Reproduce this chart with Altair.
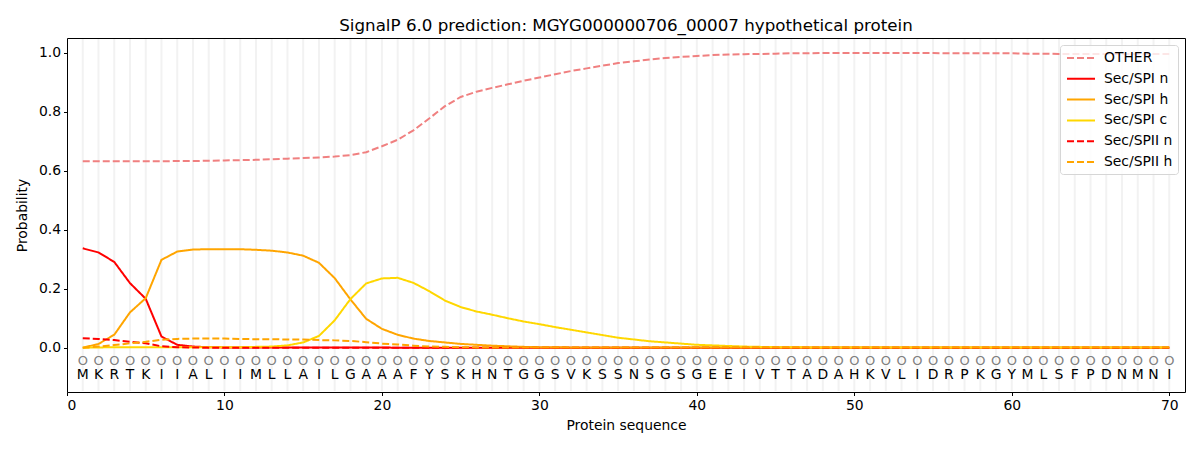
import altair as alt
import pandas as pd

title_text = "SignalP 6.0 prediction: MGYG000000706_00007 hypothetical protein"

sequence = list("MKRTKIIALIIMLLAILGAAAFYSKHNTGGSVKSSNSGSGEEIVTTADAHKVLIDRPKGYMLSFPDNMNI")
positions = list(range(1, len(sequence) + 1))

other = [0.632, 0.632, 0.632, 0.632, 0.632, 0.632, 0.633, 0.633, 0.634, 0.635,
         0.636, 0.637, 0.639, 0.641, 0.643, 0.645, 0.648, 0.653, 0.663, 0.683,
         0.705, 0.737, 0.777, 0.819, 0.850, 0.868, 0.881, 0.893, 0.905, 0.916,
         0.927, 0.938, 0.947, 0.956, 0.965, 0.971, 0.977, 0.982, 0.986, 0.989,
         0.992, 0.994, 0.995, 0.996, 0.997, 0.998, 0.998, 0.999, 0.999, 0.999,
         0.999, 0.999, 0.999, 0.999, 0.999, 0.998, 0.998, 0.998, 0.998, 0.998,
         0.997, 0.997, 0.996, 0.996, 0.996, 0.996, 0.996, 0.996, 0.996, 0.996]

spi_n = [0.337, 0.323, 0.291, 0.219, 0.166, 0.038, 0.010, 0.004, 0.002, 0.001,
         0.001, 0.001, 0.001, 0.001, 0.001, 0.001, 0.001, 0.001, 0.001, 0.001,
         0.000, 0.000, 0.000, 0.000, 0.000, 0.000, 0.000, 0.000, 0.000, 0.000,
         0.000, 0.000, 0.000, 0.000, 0.000, 0.000, 0.000, 0.000, 0.000, 0.000,
         0.000, 0.000, 0.000, 0.000, 0.000, 0.000, 0.000, 0.000, 0.000, 0.000,
         0.000, 0.000, 0.000, 0.000, 0.000, 0.000, 0.000, 0.000, 0.000, 0.000,
         0.000, 0.000, 0.000, 0.000, 0.000, 0.000, 0.000, 0.000, 0.000, 0.000]

spi_h = [0.000, 0.013, 0.044, 0.120, 0.168, 0.298, 0.326, 0.333, 0.334, 0.334,
         0.334, 0.332, 0.329, 0.323, 0.312, 0.288, 0.236, 0.164, 0.098, 0.064,
         0.044, 0.031, 0.023, 0.018, 0.013, 0.010, 0.007, 0.005, 0.003, 0.002,
         0.002, 0.001, 0.001, 0.001, 0.001, 0.001, 0.001, 0.001, 0.001, 0.001,
         0.001, 0.001, 0.001, 0.001, 0.001, 0.001, 0.001, 0.001, 0.001, 0.001,
         0.001, 0.001, 0.001, 0.001, 0.001, 0.001, 0.001, 0.001, 0.001, 0.001,
         0.001, 0.001, 0.001, 0.001, 0.001, 0.001, 0.001, 0.001, 0.001, 0.001]

spi_c = [0.000, 0.001, 0.002, 0.002, 0.002, 0.002, 0.002, 0.002, 0.002, 0.002,
         0.002, 0.003, 0.004, 0.008, 0.018, 0.040, 0.093, 0.165, 0.218, 0.235,
         0.237, 0.220, 0.192, 0.160, 0.138, 0.123, 0.112, 0.100, 0.089, 0.080,
         0.070, 0.061, 0.052, 0.043, 0.034, 0.028, 0.022, 0.018, 0.014, 0.010,
         0.008, 0.006, 0.004, 0.003, 0.002, 0.002, 0.001, 0.001, 0.001, 0.001,
         0.001, 0.001, 0.001, 0.001, 0.001, 0.001, 0.001, 0.001, 0.001, 0.001,
         0.001, 0.001, 0.001, 0.001, 0.001, 0.001, 0.001, 0.001, 0.001, 0.001]

spii_n = [0.032, 0.030, 0.026, 0.020, 0.015, 0.005, 0.002, 0.001, 0.000, 0.000,
          0.000, 0.000, 0.000, 0.000, 0.000, 0.000, 0.000, 0.000, 0.000, 0.000,
          0.000, 0.000, 0.000, 0.000, 0.000, 0.000, 0.000, 0.000, 0.000, 0.000,
          0.000, 0.000, 0.000, 0.000, 0.000, 0.000, 0.000, 0.000, 0.000, 0.000,
          0.000, 0.000, 0.000, 0.000, 0.000, 0.000, 0.000, 0.000, 0.000, 0.000,
          0.000, 0.000, 0.000, 0.000, 0.000, 0.000, 0.000, 0.000, 0.000, 0.000,
          0.000, 0.000, 0.000, 0.000, 0.000, 0.000, 0.000, 0.000, 0.000, 0.000]

spii_h = [0.000, 0.004, 0.009, 0.015, 0.020, 0.027, 0.030, 0.031, 0.031, 0.031,
          0.030, 0.029, 0.029, 0.028, 0.028, 0.026, 0.025, 0.023, 0.019, 0.014,
          0.011, 0.007, 0.004, 0.003, 0.002, 0.001, 0.001, 0.001, 0.001, 0.001,
          0.001, 0.001, 0.001, 0.001, 0.001, 0.001, 0.001, 0.001, 0.001, 0.001,
          0.001, 0.001, 0.001, 0.001, 0.001, 0.001, 0.001, 0.001, 0.001, 0.001,
          0.001, 0.001, 0.001, 0.001, 0.001, 0.001, 0.001, 0.001, 0.001, 0.001,
          0.001, 0.001, 0.001, 0.001, 0.001, 0.001, 0.001, 0.001, 0.001, 0.001]

series_names = ["OTHER", "Sec/SPI n", "Sec/SPI h", "Sec/SPI c", "Sec/SPII n", "Sec/SPII h"]
series_values = [other, spi_n, spi_h, spi_c, spii_n, spii_h]
series_colors = ["#f08080", "#ff0000", "#ffa500", "#ffd700", "#ff0000", "#ffa500"]
series_dashes = [[7, 3], [1, 0], [1, 0], [1, 0], [7, 3], [7, 3]]

rows = []
for name, vals in zip(series_names, series_values):
    for p, v in zip(positions, vals):
        rows.append({"pos": p, "prob": v, "series": name})
lines_df = pd.DataFrame(rows)
seq_df = pd.DataFrame({"pos": positions, "aa": sequence})

x_enc = alt.X("pos:Q", title="Protein sequence",
              scale=alt.Scale(domain=[0, 71], nice=False, zero=False),
              axis=alt.Axis(values=[0, 10, 20, 30, 40, 50, 60, 70], format="d"))
y_enc = alt.Y("prob:Q", title="Probability",
              scale=alt.Scale(domain=[-0.15, 1.05], nice=False, zero=False),
              axis=alt.Axis(values=[0.0, 0.2, 0.4, 0.6, 0.8, 1.0], format=".1f",
                            titlePadding=9))

legend_cfg = alt.Legend(title=None, orient="none", legendX=993, legendY=7,
                        symbolType="M-2,0H2", symbolSize=196, symbolStrokeWidth=2,
                        symbolOffset=8,
                        labelFontSize=13.9, labelFont="DejaVu Sans", labelColor="black",
                        strokeColor="#d6d6d6", fillColor="rgba(255,255,255,0.8)",
                        padding=5, cornerRadius=3, rowPadding=5.8, labelOffset=15)

grid_rules = alt.Chart(seq_df).mark_rule(color="#f2f2f2", strokeWidth=2).encode(
    x=x_enc, y=alt.value(1), y2=alt.value(353))

lines = alt.Chart(lines_df).mark_line(strokeWidth=2, clip=True).encode(
    x=x_enc,
    y=y_enc,
    color=alt.Color("series:N", sort=series_names,
                    scale=alt.Scale(domain=series_names, range=series_colors),
                    legend=legend_cfg),
    strokeDash=alt.StrokeDash("series:N", sort=series_names,
                              scale=alt.Scale(domain=series_names, range=series_dashes),
                              legend=legend_cfg),
    order=alt.Order("pos:Q"),
)

circles = alt.Chart(seq_df).mark_text(fontSize=13, font="DejaVu Sans", color="#808080",
                                      baseline="middle").encode(
    x=x_enc, y=alt.datum(-0.045), text=alt.value("O"))

letters = alt.Chart(seq_df).mark_text(fontSize=13.9, font="DejaVu Sans", color="black",
                                      baseline="middle").encode(
    x=x_enc, y=alt.datum(-0.094), text="aa:N")

chart = alt.layer(grid_rules, lines, circles, letters).properties(
    width=1118, height=354,
    autosize=alt.AutoSizeParams(type="none"),
    padding={"left": 59, "top": 30, "right": 7, "bottom": 46},
    title=alt.TitleParams(title_text, fontSize=16.7, font="DejaVu Sans",
                          fontWeight="normal", color="black", offset=3, anchor="middle"),
).configure_view(stroke="black", strokeWidth=1).configure_axis(
    grid=False, domain=False, tickColor="black", tickSize=3.5, tickWidth=1,
    labelFontSize=13.9, labelFont="DejaVu Sans", labelColor="black", labelPadding=3,
    titleFontSize=13.9, titleFont="DejaVu Sans", titleFontWeight="normal",
    titleColor="black", titlePadding=6,
)

chart.save("out.html", embed_options={"renderer": "svg", "actions": False})
